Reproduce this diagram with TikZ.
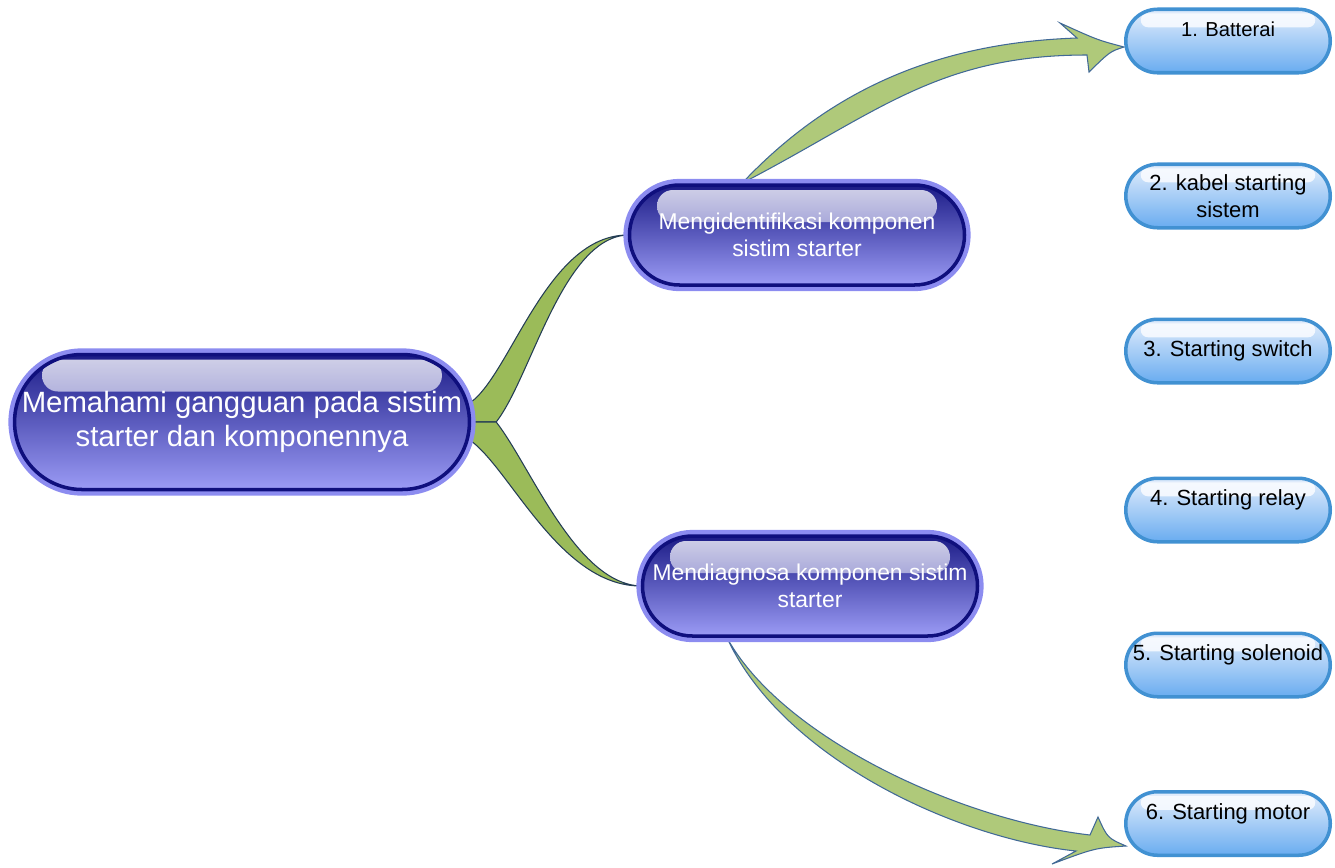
\documentclass[tikz,border=0pt]{standalone}
\usepackage{fontspec}
\setmainfont{Liberation Sans}
\usetikzlibrary{shapes.misc, calc, backgrounds}

\definecolor{pilltop}{RGB}{28,28,135}
\definecolor{pillmid}{RGB}{75,75,190}
\definecolor{pillbot}{RGB}{155,155,245}
\definecolor{pillrim}{RGB}{140,140,240}
\definecolor{pilledge}{RGB}{15,15,125}
\definecolor{glosstop}{RGB}{210,210,232}
\definecolor{glossbot}{RGB}{100,100,195}
\definecolor{leaftop}{RGB}{228,238,252}
\definecolor{leafbot}{RGB}{105,172,240}
\definecolor{leafedge}{RGB}{65,145,210}
\definecolor{branchgreen}{RGB}{155,187,89}
\definecolor{branchedge}{RGB}{35,60,85}
\definecolor{arrowgreen}{RGB}{175,201,122}
\definecolor{arrowedge}{RGB}{65,105,150}

\begin{document}
\begin{tikzpicture}[
		pill/.style = {rounded rectangle, top color=pilltop, middle color=pillmid, bottom color=pillbot,
			preaction={draw=pillrim, line width=7pt}, draw=pilledge, line width=2pt,
			text=white, align=center, inner xsep=0pt,
			path picture={\shade[top color=glosstop, bottom color=glossbot, rounded corners=9pt]
				([xshift=0.55cm, yshift=-0.1cm]path picture bounding box.north west) rectangle
				([xshift=-0.55cm, yshift=-0.74cm]path picture bounding box.north east);}},
		% Kotak biru untuk komponen
		leaf/.style = {rounded rectangle, minimum width=4.16cm, minimum height=1.27cm,
			top color=leaftop, bottom color=leafbot, draw=leafedge, line width=2pt,
			align=center, inner xsep=1pt, font=\fontsize{12.5}{15}\selectfont,
			path picture={\shade[top color=white!70!leaftop, bottom color=leaftop, rounded corners=4pt]
				([xshift=0.3cm, yshift=-0.08cm]path picture bounding box.north west) rectangle
				([xshift=-0.3cm, yshift=-0.36cm]path picture bounding box.north east);}},
		leafup/.style = {text height=9pt, text depth=13.6pt},
		branch/.style = {fill=branchgreen, draw=branchedge, line width=0.6pt},
		bigarrow/.style = {fill=arrowgreen, draw=arrowedge, line width=0.6pt}
		]
		\useasboundingbox (0,0) rectangle (26.7,-17.34);
		
		% --- TUJUAN UTAMA ---
		\node [pill, minimum width=8.9cm, minimum height=2.7cm, font=\fontsize{16.7}{19}\selectfont] (goal) at (4.84,-8.44)
			{Memahami gangguan pada sistim\\ starter dan komponennya};
		
		% --- SUB TUJUAN ---
		\node [pill, minimum width=6.7cm, minimum height=2.0cm, font=\fontsize{13}{15.5}\selectfont] (ident) at (15.94,-4.7)
			{Mengidentifikasi komponen\\ sistim starter};
		\node [pill, minimum width=6.7cm, minimum height=2.0cm, font=\fontsize{13}{15.5}\selectfont] (diag) at (16.2,-11.72)
			{Mendiagnosa komponen sistim\\ starter};
		
		% --- KOMPONEN ---
		\node [leaf, leafup, font=\fontsize{11.5}{14}\selectfont] (bat) at (24.56,-0.82) {1. Batterai};
		\node [leaf] (kabel)    at (24.56,-3.92)  {2. kabel starting\\ sistem};
		\node [leaf] (switch)   at (24.56,-7.02)  {3. Starting switch};
		\node [leaf, leafup] (relay)    at (24.56,-10.2)  {4. Starting relay};
		\node [leaf, leafup] (solenoid) at (24.56,-13.3)  {5. Starting solenoid};
		\node [leaf, leafup] (motor)    at (24.56,-16.47) {6. Starting motor};
		
		% --- CABANG & PANAH ---
		\coordinate (tail1) at ($(ident.north)+(-1.1,0)$);
		\coordinate (tip1)  at ($(bat.west)+(0,-0.12)$);
		\coordinate (tail2) at ($(diag.south)+(-1.66,0)$);
		\coordinate (tip2)  at ($(motor.west)+(0.04,-0.45)$);
		
		\begin{scope}[on background layer]
			% 1. Cabang hijau dari tujuan utama
			\path [branch] ($(goal.east)+(0,0.4)$) .. controls +(0.8,0.6) and +(-1.6,0) .. (ident.west)
				.. controls +(-1.3,-0.05) and +(0.7,0.9) .. ($(goal.east)+(0.5,0)$) -- (goal.east) -- cycle;
			\path [branch] ($(goal.east)+(0,-0.38)$) .. controls +(0.8,-0.6) and +(-1.6,0) .. (diag.west)
				.. controls +(-1.3,0.05) and +(0.7,-0.9) .. ($(goal.east)+(0.5,0)$) -- (goal.east) -- cycle;
			
			% 2. Panah lengkung ke komponen pertama dan terakhir
			\path [bigarrow] (tail1) .. controls +(1.7,1.8) and +(-2.9,-0.1) .. ($(tip1)+(-0.94,0.18)$)
				-- ($(tip1)+(-1.28,0.48)$) .. controls ($(tip1)+(-0.53,0.14)$) .. (tip1)
				.. controls ($(tip1)+(-0.28,-0.09)$) .. ($(tip1)+(-0.7,-0.5)$)
				-- ($(tip1)+(-0.74,-0.16)$) .. controls +(-3,0.0) and +(2.7,1.4) .. (tail1) -- cycle;
			\path [bigarrow] (tail2) .. controls +(1.1,-2.0) and +(-2.6,0.3) .. ($(tip2)+(-0.72,0.22)$)
				-- ($(tip2)+(-0.56,0.58)$) .. controls ($(tip2)+(-0.37,0.16)$) .. (tip2)
				.. controls ($(tip2)+(-0.62,-0.04)$) .. ($(tip2)+(-1.48,-0.36)$)
				-- ($(tip2)+(-1.0,-0.1)$) .. controls +(-2.4,0.25) and +(1.1,-2.4) .. (tail2) -- cycle;
		\end{scope}
		
	\end{tikzpicture}
\end{document}
